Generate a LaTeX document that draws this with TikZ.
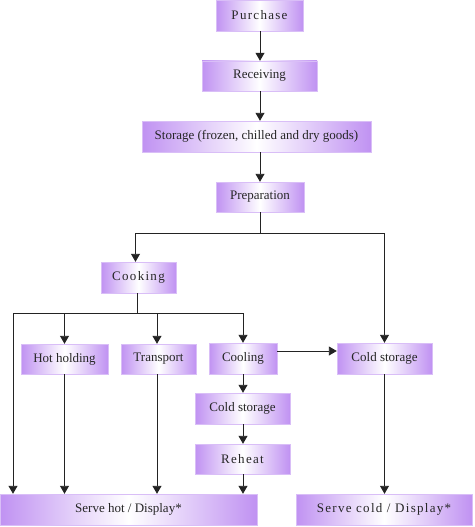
\documentclass[tikz,border=0pt]{standalone}
\usepackage{fontspec}
\setmainfont{Liberation Serif}
\usetikzlibrary{arrows.meta}
\definecolor{lilac}{RGB}{192,146,242}
\definecolor{linec}{RGB}{35,35,35}
\newcommand{\spaced}[1]{{\addfontfeatures{LetterSpace=10}#1}}
\tikzset{
  box/.style={rectangle, inner sep=0pt, left color=lilac, right color=lilac, middle color=white, draw=lilac!60, line width=0.4pt, font=\fontsize{13}{15}\selectfont, text=black!85},
  conn/.style={draw=linec, line width=0.9pt},
  arr/.style={conn, -{Triangle[length=8pt,width=9pt]}}
}
\begin{document}
\begin{tikzpicture}[x=1pt,y=-1pt]
\useasboundingbox (0,0) rectangle (474,527);
\node[box, minimum width=87pt, minimum height=31pt] (purchase) at (259.5,15.5) {\spaced{Purchase}};
\node[box, minimum width=115pt, minimum height=30pt] (receiving) at (259.5,76) {Receiving};
\node[box, minimum width=229pt, minimum height=31pt] (storage) at (256.5,136.5) {Storage (frozen, chilled and dry goods)};
\node[box, minimum width=88pt, minimum height=30pt] (prep) at (260,197) {Preparation};
\node[box, minimum width=75pt, minimum height=31pt] (cooking) at (138.5,277.5) {\spaced{Cooking}};
\node[box, minimum width=87pt, minimum height=30pt] (hot) at (64.5,359) {Hot holding};
\node[box, minimum width=75pt, minimum height=30pt] (transport) at (158.5,359) {Transport};
\node[box, minimum width=68pt, minimum height=31pt] (cooling) at (243,358.5) {Cooling};
\node[box, minimum width=95pt, minimum height=31pt] (coldR) at (384.5,358.5) {Cold storage};
\node[box, minimum width=95pt, minimum height=31pt] (cold2) at (242.5,408.5) {Cold storage};
\node[box, minimum width=95pt, minimum height=30pt] (reheat) at (242.5,459) {\spaced{Reheat}};
\node[box, minimum width=257pt, minimum height=31pt] (servehot) at (128.5,509.5) {Serve hot / Display*};
\node[box, minimum width=176pt, minimum height=31pt] (servecold) at (384,509.5) {\spaced{Serve cold / Display*}};
\coordinate (b1) at (260,233);
\coordinate (b2) at (137,313);
\coordinate (bl) at (13,313);
\draw[arr] (purchase.south -| prep) -- (receiving.north -| prep);
\draw[arr] (receiving.south -| prep) -- (storage.north -| prep);
\draw[arr] (storage.south -| prep) -- (prep.north);
\draw[conn] (prep.south) -- (b1);
\draw[arr] (b1) -| ([xshift=-3pt]cooking.north);
\draw[arr] (b1) -| (coldR.north);
\draw[conn] (cooking.south -| b2) -- (b2);
\draw[conn] (bl) -- (b2 -| cooling);
\draw[arr] (bl) -- (bl |- servehot.north);
\draw[arr] (b2 -| hot) -- (hot.north);
\draw[arr] ([xshift=-1.5pt]b2 -| transport) -- ([xshift=-1.5pt]transport.north);
\draw[arr] (b2 -| cooling) -- (cooling.north);
\draw[arr] ([yshift=7.5pt]cooling.east) -- ([yshift=7.5pt]coldR.west);
\draw[arr] (cooling.south) -- (cold2.north -| cooling);
\draw[arr] (cold2.south -| cooling) -- (reheat.north -| cooling);
\draw[arr] (reheat.south -| cooling) -- (servehot.north -| cooling);
\draw[arr] (hot.south) -- (servehot.north -| hot);
\draw[arr] ([xshift=-1.5pt]transport.south) -- ([xshift=-1.5pt]servehot.north -| transport);
\draw[arr] (coldR.south) -- (servecold.north -| coldR);
\end{tikzpicture}
\end{document}
